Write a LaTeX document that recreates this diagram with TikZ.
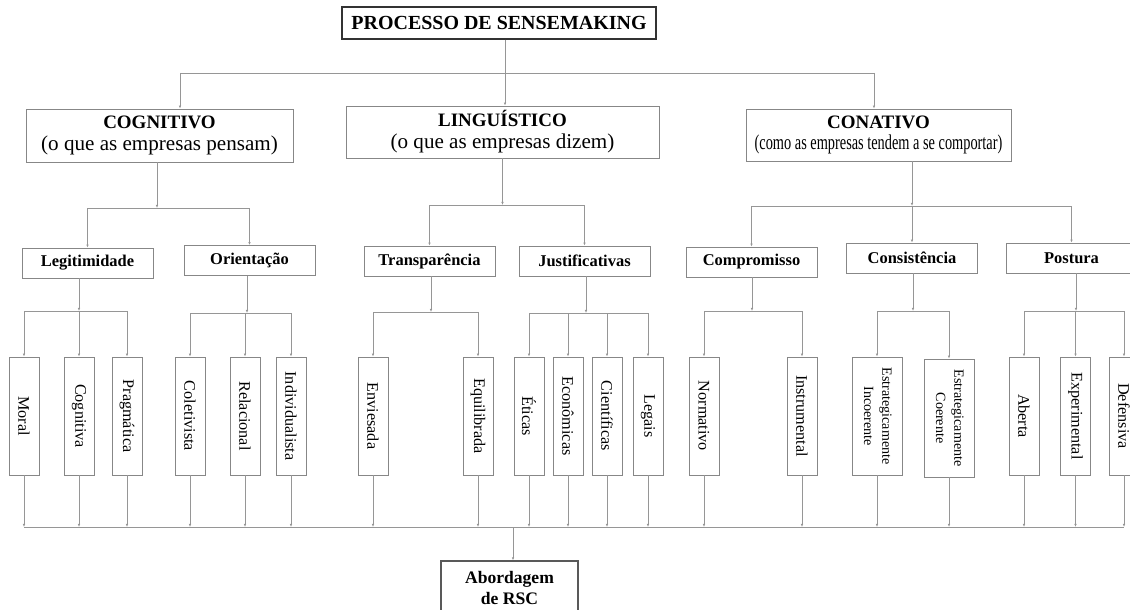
\documentclass[tikz,border=0pt]{standalone}
\usepackage{fontspec}
\setmainfont{Liberation Serif}
\usepackage{graphicx}
\usetikzlibrary{arrows.meta,positioning}
\definecolor{linegray}{RGB}{150,150,150}
\definecolor{boxgray}{RGB}{135,135,135}
\tikzset{titlebox/.style={rectangle, draw=black!80, line width=0.8pt, font=\fontsize{14.2}{16}\selectfont\bfseries, minimum width=7.85cm, minimum height=0.8cm, inner sep=0pt}, dimbox/.style={rectangle, draw=boxgray, line width=0.5pt, align=center, font=\fontsize{14}{15.5}\selectfont, minimum height=1.3cm, inner sep=0pt}, subbox/.style={rectangle, draw=boxgray, line width=0.5pt, font=\fontsize{11.7}{14}\selectfont\bfseries, minimum width=3.275cm, minimum height=0.75cm, inner sep=0pt}, leafbox/.style={rectangle, draw=boxgray, line width=0.5pt, font=\fontsize{11.5}{13}\selectfont, minimum width=0.75cm, minimum height=2.95cm, inner sep=0pt}, wideleaf/.style={leafbox, minimum width=1.25cm, font=\fontsize{10}{13}\selectfont}, resultbox/.style={rectangle, draw=black!65, line width=0.9pt, align=center, font=\fontsize{12.5}{14.5}\selectfont\bfseries, minimum width=3.425cm, minimum height=1.35cm, inner sep=0pt}, arrow/.style={-{Latex[length=2.2pt,width=1.8pt]}, line width=0.45pt, draw=linegray}, link/.style={line width=0.45pt, draw=linegray}}
\newcommand{\vlabel}[1]{\rotatebox{-90}{#1}}
\newcommand{\headline}[1]{{\fontsize{13.5}{15.5}\selectfont\bfseries #1}}
\newcommand{\subline}[1]{{\fontsize{15}{15.5}\selectfont #1}}

\begin{document}
\begin{tikzpicture}[x=0.025cm, y=-0.025cm]
\useasboundingbox (0,0) rectangle (1130,610);
\node[titlebox] (proc) at (499,23) {PROCESSO DE SENSEMAKING};
\node[dimbox, minimum width=6.675cm, minimum height=1.325cm] (cog) at (159.5,135.5) {\headline{COGNITIVO}\\\subline{(o que as empresas pensam)}};
\node[dimbox, minimum width=7.825cm] (ling) at (502.5,132) {\headline{LINGUÍSTICO}\\\subline{(o que as empresas dizem)}};
\node[dimbox, minimum width=6.625cm] (conat) at (878.5,135) {\headline{CONATIVO}\\\subline{\scalebox{0.68}[1]{(como as empresas tendem a se comportar)}}};
\foreach \name/\x/\y/\txt in {legit/87.5/263/Legitimidade, orient/249.5/260.5/Orientação, transp/429.5/261/Transparência, justif/584.5/261/Justificativas, compr/751.5/262/Compromisso, consist/912/258/Consistência, postura/1071.5/258/Postura} {\node[subbox] (\name) at (\x,\y) {\txt};}
\foreach \name/\x/\txt in {moral/24/Moral, cognitiva/79/Cognitiva, pragm/127/Pragmática, colet/190/Coletivista, relac/245/Relacional, indiv/291/Individualista, envies/373/Enviesada, equil/478/Equilibrada, eticas/529/Éticas, econ/568/Econômicas, cient/607/Científicas, legais/648/Legais, norm/704/Normativo, instr/802/Instrumental, aberta/1024/Aberta, exper/1075.5/Experimental, defens/1124/Defensiva} {\node[leafbox] (\name) at (\x,416) {\vlabel{\txt}};}
\node[wideleaf] (incoer) at (877,416) {\vlabel{\begin{tabular}{@{}c@{}}Estrategicamente\\Incoerente\end{tabular}}};
\node[wideleaf] (coer) at (949,418) {\vlabel{\begin{tabular}{@{}c@{}}Estrategicamente\\Coerente\end{tabular}}};
\node[resultbox] (result) at (509.5,588) {Abordagem\\de RSC};
% first level
\coordinate (barL) at (180,73);
\coordinate (barR) at (874,73);
\draw[link] (barL) -- (barR);
\draw[arrow] ([xshift=0.15cm]proc.south) -- ([xshift=0.15cm]proc.south |- ling.north);
\draw[arrow] (barL) -- (barL |- cog.north);
\draw[arrow] (barR) -- (barR |- conat.north);
% second level
\coordinate (cogbar) at (157,208);
\coordinate (lingbar) at (502.5,205);
\coordinate (conbar) at (912,206);
\foreach \p/\b in {cog/cogbar, ling/lingbar, conat/conbar} {\draw[arrow] (\b |- \p.south) -- (\b);}
\foreach \b/\c in {cogbar/legit, cogbar/orient, lingbar/transp, lingbar/justif, conbar/compr, conbar/consist, conbar/postura} {\draw[arrow] (\b) -| (\c.north);}
% third level
\coordinate (legbar) at (79,311);
\coordinate (oribar) at (247,313);
\coordinate (trabar) at (431,312);
\coordinate (jusbar) at (586,313);
\coordinate (combar) at (752,311);
\coordinate (consbar) at (913,311);
\coordinate (posbar) at (1076,311);
\foreach \p/\b in {legit/legbar, orient/oribar, transp/trabar, justif/jusbar, compr/combar, consist/consbar, postura/posbar} {\draw[arrow] (\b |- \p.south) -- (\b);}
\foreach \b/\c in {legbar/moral, legbar/cognitiva, legbar/pragm, oribar/colet, oribar/relac, oribar/indiv, trabar/envies, trabar/equil, jusbar/eticas, jusbar/econ, jusbar/cient, jusbar/legais, combar/norm, combar/instr, consbar/incoer, consbar/coer, posbar/aberta, posbar/exper, posbar/defens} {\draw[arrow] (\b) -| (\c.north);}
% bottom bus
\coordinate (bus) at (0,527);
\coordinate (busmid) at (513,527);
\draw[link] (moral.south |- bus) -- (defens.south |- bus);
\foreach \c in {moral, cognitiva, pragm, colet, relac, indiv, envies, equil, eticas, econ, cient, legais, norm, instr, incoer, coer, aberta, exper, defens} {\draw[arrow] (\c.south) -- (\c.south |- bus);}
\draw[arrow] (busmid) -- (busmid |- result.north);
\end{tikzpicture}
\end{document}
